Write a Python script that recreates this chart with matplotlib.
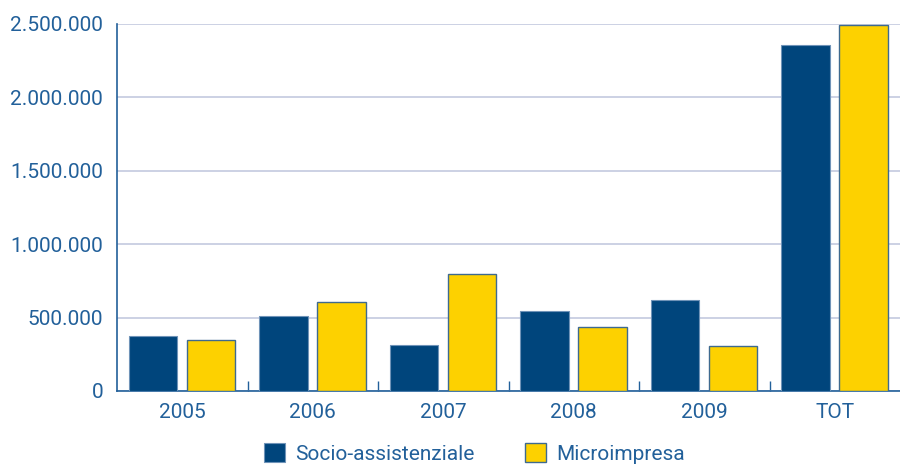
import numpy as np
import matplotlib.pyplot as plt
from matplotlib.ticker import FuncFormatter, FixedLocator

# Data
categories = ["2005", "2006", "2007", "2008", "2009", "TOT"]
socio = [375000, 511000, 313000, 543000, 622000, 2355000]
micro = [347000, 608000, 797000, 438000, 307000, 2495000]

BLUE = "#00457C"
YELLOW = "#FDD100"
TEXT = "#22609A"
GRID = "#C3C9DF"

plt.rcParams['font.family'] = ['Roboto', 'DejaVu Sans']

fig = plt.figure(figsize=(9, 4.66), dpi=100)
ax = fig.add_axes([0.13, 0.161, 0.87, 0.7875])

x = np.arange(len(categories))
w = 0.37
ax.bar(x - 0.225, socio, w, color=BLUE, edgecolor="#6F93B8", linewidth=0.8,
       label="Socio-assistenziale", zorder=3)
ax.bar(x + 0.22, micro, w, color=YELLOW, edgecolor="#3E6A8F", linewidth=1.0,
       label="Microimpresa", zorder=3)

ax.set_xlim(-0.5, 5.5)
ax.set_ylim(0, 2500000)
ax.set_yticks(np.arange(0, 2500001, 500000))
ax.yaxis.set_major_formatter(FuncFormatter(lambda v, p: f"{int(v):,}".replace(",", ".")))
ax.grid(axis="y", color=GRID, linewidth=1.2, zorder=0)
ax.set_axisbelow(True)

ax.set_xticks(x)
ax.set_xticklabels(categories)
ax.xaxis.set_minor_locator(FixedLocator(np.arange(0.5, 5.0, 1.0)))
ax.tick_params(axis="x", which="major", length=0, pad=9, labelsize=15, labelcolor=TEXT)
ax.tick_params(axis="x", which="minor", length=7, direction="in", color=TEXT, width=1)
ax.tick_params(axis="y", length=0, pad=10, labelsize=15, labelcolor=TEXT)

for s in ["top", "right"]:
    ax.spines[s].set_visible(False)
ax.spines["left"].set_color(TEXT)
ax.spines["bottom"].set_color(TEXT)
ax.spines["left"].set_linewidth(1.2)
ax.spines["bottom"].set_linewidth(1.2)

leg = fig.legend(loc="lower center", bbox_to_anchor=(0.527, -0.035), ncol=2, frameon=False,
                 fontsize=15, handlelength=1.0, handleheight=1.0, columnspacing=2.4,
                 handletextpad=0.5)
for t in leg.get_texts():
    t.set_color(TEXT)

fig.savefig("out.png", dpi=100)
